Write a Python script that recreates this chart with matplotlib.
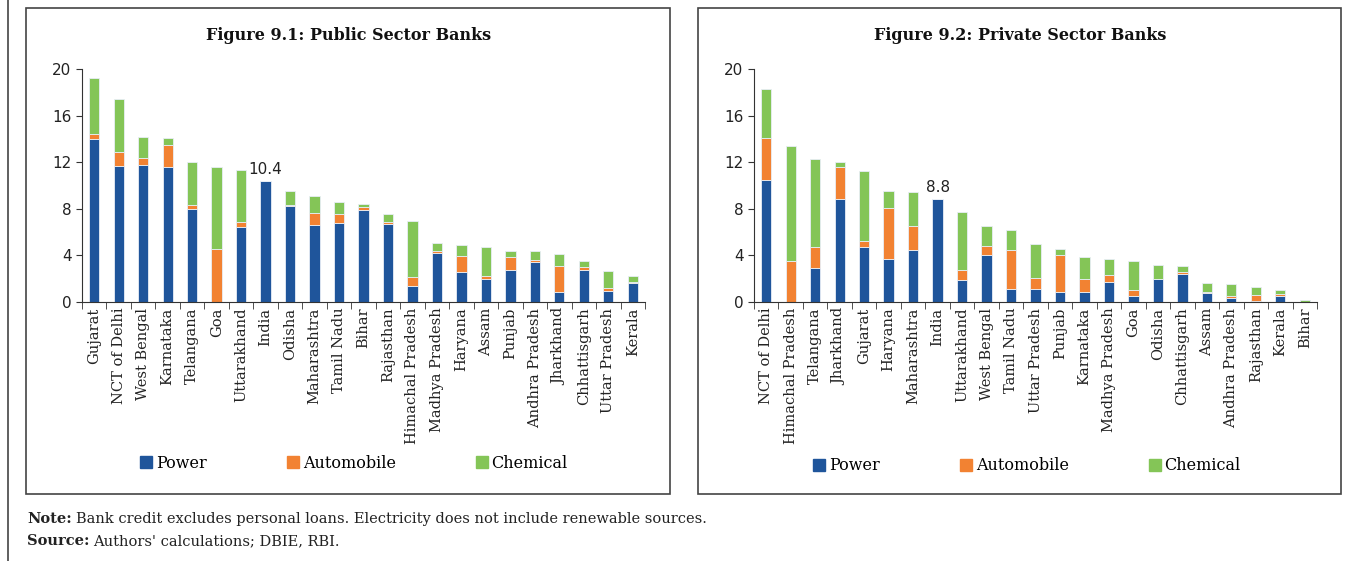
import matplotlib
matplotlib.use("Agg")
import matplotlib.pyplot as plt
from matplotlib.patches import Rectangle
from matplotlib.lines import Line2D
import numpy as np

# Figure 9.1: Public Sector Banks
pub_states = ["Gujarat", "NCT of Delhi", "West Bengal", "Karnataka", "Telangana", "Goa",
              "Uttarakhand", "India", "Odisha", "Maharashtra", "Tamil Nadu", "Bihar",
              "Rajasthan", "Himachal Pradesh", "Madhya Pradesh", "Haryana", "Assam",
              "Punjab", "Andhra Pradesh", "Jharkhand", "Chhattisgarh", "Uttar Pradesh", "Kerala"]
pub_power = [14.0, 11.7, 11.8, 11.55, 8.0, 0.0, 6.4, 10.4, 8.2, 6.6, 6.75, 7.87,
             6.7, 1.35, 4.2, 2.55, 2.0, 2.75, 3.45, 0.9, 2.75, 0.97, 1.6]
pub_auto = [0.45, 1.15, 0.6, 1.9, 0.3, 4.55, 0.5, 0.0, 0.1, 1.0, 0.8, 0.27,
            0.15, 0.8, 0.15, 1.4, 0.25, 1.1, 0.15, 2.15, 0.25, 0.2, 0.15]
pub_chem = [4.75, 4.55, 1.8, 0.6, 3.75, 7.0, 4.4, 0.0, 1.25, 1.5, 1.0, 0.3,
            0.7, 4.8, 0.7, 0.9, 2.5, 0.55, 0.75, 1.1, 0.5, 1.5, 0.5]

# Figure 9.2: Private Sector Banks
pvt_states = ["NCT of Delhi", "Himachal Pradesh", "Telangana", "Jharkhand", "Gujarat",
              "Haryana", "Maharashtra", "India", "Uttarakhand", "West Bengal", "Tamil Nadu",
              "Uttar Pradesh", "Punjab", "Karnataka", "Madhya Pradesh", "Goa", "Odisha",
              "Chhattisgarh", "Assam", "Andhra Pradesh", "Rajasthan", "Kerala", "Bihar"]
pvt_power = [10.45, 0.0, 2.9, 8.8, 4.75, 3.7, 4.5, 8.8, 1.9, 4.05, 1.1,
             1.15, 0.9, 0.9, 1.75, 0.5, 1.95, 2.4, 0.8, 0.35, 0.08, 0.5, 0.0]
pvt_auto = [3.6, 3.55, 1.8, 2.8, 0.5, 4.4, 2.0, 0.0, 0.85, 0.75, 3.4,
            0.95, 3.1, 1.05, 0.6, 0.55, 0.0, 0.15, 0.05, 0.17, 0.5, 0.2, 0.0]
pvt_chem = [4.2, 9.85, 7.6, 0.4, 6.0, 1.4, 2.9, 0.0, 5.0, 1.75, 1.7,
            2.9, 0.55, 1.9, 1.35, 2.45, 1.2, 0.5, 0.75, 1.0, 0.75, 0.3, 0.2]

series_names = ["Power", "Automobile", "Chemical"]
colors = ["#1F559B", "#F28232", "#84C557"]

serif = "DejaVu Serif"
W, H = 1355, 561
fig = plt.figure(figsize=(W / 100, H / 100), dpi=100)


def fx(px):
    return px / W


def fy(py):
    return 1 - py / H


def draw_panel(rect, states, power, auto, chem, title, title_x, leg_x, leg_y, india_val):
    ax = fig.add_axes(rect)
    x = np.arange(len(states))
    power = np.array(power)
    auto = np.array(auto)
    chem = np.array(chem)
    kw = dict(width=0.42, edgecolor="#E8EEF6", linewidth=0.6)
    ax.bar(x, power, color=colors[0], label=series_names[0], **kw)
    ax.bar(x, auto, bottom=power, color=colors[1], label=series_names[1], **kw)
    ax.bar(x, chem, bottom=power + auto, color=colors[2], label=series_names[2], **kw)

    i = states.index("India")
    ax.text(x[i], india_val + 0.35, f"{india_val}", ha="center", va="bottom",
            fontsize=11, color="#222222")

    ax.set_xlim(-0.5, len(states) - 0.5)
    ax.set_ylim(0, 20)
    ax.set_yticks([0, 4, 8, 12, 16, 20])
    ax.tick_params(axis="y", labelsize=11, length=4, color="#333333", labelcolor="#222222")
    ax.set_xticks(x)
    ax.set_xticklabels(states, rotation=90, fontsize=10.5, family=serif, color="#222222")
    ax.tick_params(axis="x", which="major", length=0, pad=4)
    ax.set_xticks(np.arange(len(states) + 1) - 0.5, minor=True)
    ax.tick_params(axis="x", which="minor", length=5, color="#333333")
    for s in ["top", "right"]:
        ax.spines[s].set_visible(False)
    for s in ["left", "bottom"]:
        ax.spines[s].set_color("#333333")

    fig.text(title_x, fy(36), title, ha="center", va="center", fontsize=11.5,
             fontweight="bold", family=serif, color="#111111")

    handles = [Rectangle((0, 0), 1, 1, color=c) for c in colors]
    ax.legend(handles, series_names, loc="center", bbox_to_anchor=(leg_x, leg_y),
              bbox_transform=fig.transFigure, ncol=3, frameon=False,
              prop={"family": serif, "size": 11.5}, handlelength=0.75, handleheight=0.75,
              handletextpad=0.25, columnspacing=5.0)
    return ax


bottom = fy(302)
height = fy(69) - bottom
draw_panel([fx(82), bottom, fx(645) - fx(82), height], pub_states, pub_power, pub_auto,
           pub_chem, "Figure 9.1: Public Sector Banks", fx(349), fx(354), fy(463), 10.4)
draw_panel([fx(754), bottom, fx(1317) - fx(754), height], pvt_states, pvt_power, pvt_auto,
           pvt_chem, "Figure 9.2: Private Sector Banks", fx(1020), fx(1027), fy(466), 8.8)

# panel frames and page rule
for x0, x1 in [(26, 670), (698, 1341)]:
    fig.patches.append(Rectangle((fx(x0), fy(494)), fx(x1) - fx(x0), fy(8) - fy(494),
                                 transform=fig.transFigure, fill=False,
                                 edgecolor="#444444", linewidth=1.2))
fig.lines.append(Line2D([fx(8), fx(8)], [0, 1], transform=fig.transFigure,
                        color="#444444", linewidth=1.2))

# note and source: bold lead-in followed by regular text
renderer = fig.canvas.get_renderer()
for py, lead, rest in [(519, "Note:", "Bank credit excludes personal loans. Electricity does not include renewable sources."),
                       (541, "Source:", "Authors' calculations; DBIE, RBI.")]:
    t = fig.text(fx(27), fy(py), lead, ha="left", va="center", fontsize=10.5,
                 family=serif, fontweight="bold", color="#222222")
    bb = t.get_window_extent(renderer)
    fig.text(fx(bb.x1 + 4), fy(py), rest, ha="left", va="center", fontsize=10.5,
             family=serif, color="#222222")

fig.savefig("out.png", dpi=100)
